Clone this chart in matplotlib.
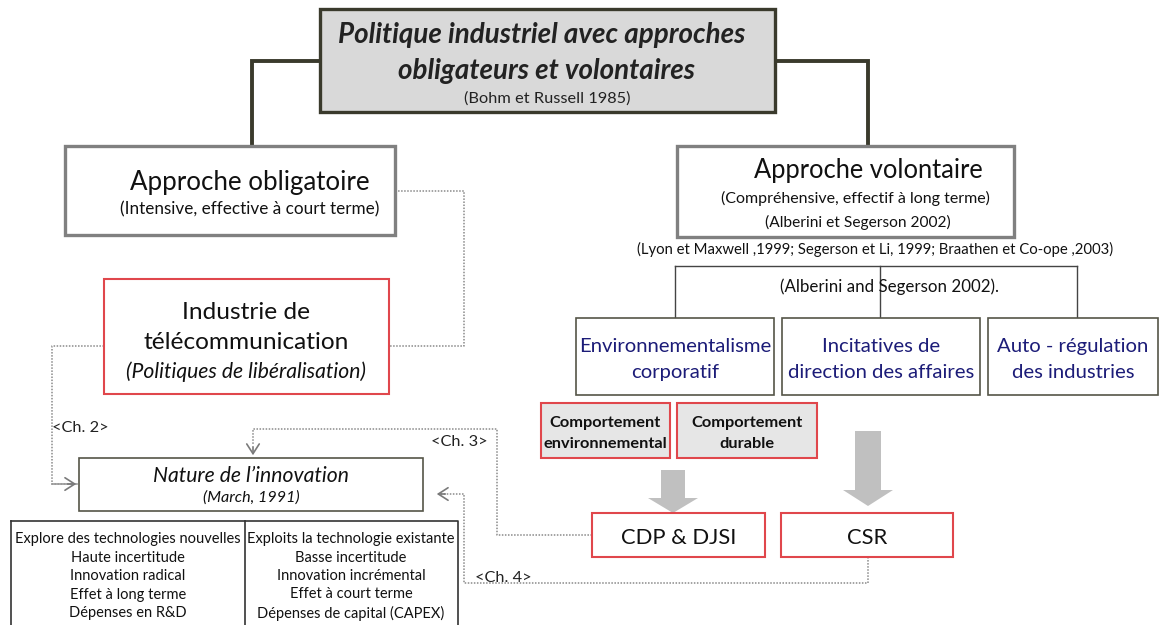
import matplotlib
matplotlib.use("Agg")
import matplotlib.pyplot as plt
from matplotlib.patches import Rectangle, FancyArrow

plt.rcParams['font.family'] = ['Lato', 'DejaVu Sans']

# ---- texts ----
title_lines = ["Politique industriel avec approches", "obligateurs et volontaires"]
title_ref = "(Bohm et Russell 1985)"
oblig_title = "Approche obligatoire"
oblig_sub = "(Intensive, effective à court terme)"
volont_title = "Approche volontaire"
volont_sub = ["(Compréhensive, effectif à long terme)", "(Alberini et Segerson 2002)"]
volont_refs = "(Lyon et Maxwell ,1999; Segerson et Li, 1999; Braathen et Co-ope ,2003)"
tree_ref = "(Alberini and Segerson 2002)."
branches = [["Environnementalisme", "corporatif"], ["Incitatives de", "direction des affaires"],
            ["Auto - régulation", "des industries"]]
behaviours = [["Comportement", "environnemental"], ["Comportement", "durable"]]
outcomes = ["CDP & DJSI", "CSR"]
telecom_lines = ["Industrie de", "télécommunication"]
telecom_sub = "(Politiques de libéralisation)"
nature_title = "Nature de l’innovation"
nature_sub = "(March, 1991)"
chapters = ["<Ch. 2>", "<Ch. 3>", "<Ch. 4>"]
explore_col = ["Explore des technologies nouvelles", "Haute incertitude", "Innovation radical",
               "Effet à long terme", "Dépenses en R&D"]
exploit_col = ["Exploits la technologie existante", "Basse incertitude", "Innovation incrémental",
               "Effet à court terme", "Dépenses de capital (CAPEX)"]

fig = plt.figure(figsize=(11.6, 6.25), dpi=100)
ax = fig.add_axes([0, 0, 1, 1])
ax.set_xlim(0, 1160)
ax.set_ylim(625, 0)
ax.axis('off')

DARK = '#3a3a2c'
GRAY_EDGE = '#808080'
RED = '#e0474c'
NAVY = '#1c1c78'
DOT = '#8a8a8a'
TXT = '#111111'
DY = 2.5  # vertical text nudge


def box(x0, y0, x1, y1, ec, lw, fc='white', z=2):
    ax.add_patch(Rectangle((x0, y0), x1 - x0, y1 - y0, fc=fc, ec=ec, lw=lw, zorder=z))


def dotted(xs, ys):
    ax.plot(xs, ys, color=DOT, lw=1.1, ls=(0, (1, 1)), zorder=1)


def openhead(x, y, dx, dy):
    ax.annotate('', xy=(x, y), xytext=(x - dx * 14, y - dy * 14),
                arrowprops=dict(arrowstyle='->,head_length=0.7,head_width=0.45', color='#7a7a7a', lw=1.2),
                zorder=3)


def txt(x, y, s, size, ha='center', **kw):
    kw.setdefault('color', TXT)
    ax.text(x, y + DY, s, ha=ha, va='center', fontsize=size, zorder=4, **kw)


# ---- connectors top ----
ax.plot([320, 252, 252], [61, 61, 146], color=DARK, lw=2.8, zorder=1, solid_joinstyle='miter')
ax.plot([775, 868, 868], [61, 61, 146], color=DARK, lw=2.8, zorder=1, solid_joinstyle='miter')

# ---- top box ----
box(320, 9, 775, 112, DARK, 2.4, fc='#d9d9d9')
txt(542, 33, title_lines[0], 20, fontweight='bold', style='italic', color='#222222')
txt(547, 68, title_lines[1], 20, fontweight='bold', style='italic', color='#222222')
txt(547, 96, title_ref, 11.8, color='#222222')

# ---- approche obligatoire ----
box(65, 146, 395, 235, GRAY_EDGE, 2.4)
txt(250, 180, oblig_title, 18.6)
txt(250, 207, oblig_sub, 12.3)

# ---- approche volontaire ----
box(677, 146, 1014, 237, GRAY_EDGE, 2.4)
txt(868, 168, volont_title, 18.4)
txt(855, 196, volont_sub[0], 11.5)
txt(858, 220, volont_sub[1], 11.2)
txt(875, 247, volont_refs, 10.7)

# ---- tree ----
ax.plot([675, 1077], [266, 266], color='#444444', lw=1.0, zorder=1)
for xv in [675, 880, 1077]:
    ax.plot([xv, xv], [266, 318], color='#444444', lw=1.0, zorder=1)
txt(890, 284, tree_ref, 12.2)

bx = [(576, 774), (782, 980), (988, 1158)]
for (x0, x1), lab in zip(bx, branches):
    box(x0, 318, x1, 395, '#555548', 1.2)
    txt((x0 + x1) / 2, 344, lab[0], 14.6, color=NAVY)
    txt((x0 + x1) / 2, 370, lab[1], 14.6, color=NAVY)

# ---- behaviours ----
for (x0, x1), lab in zip([(541, 670), (677, 817)], behaviours):
    box(x0, 403, x1, 458, RED, 1.5, fc='#e6e6e6')
    txt((x0 + x1) / 2, 420, lab[0], 11.8, fontweight='bold')
    txt((x0 + x1) / 2, 441, lab[1], 11.8, fontweight='bold')

# ---- gray block arrows ----
ax.add_patch(FancyArrow(673, 470, 0, 43, width=24, head_width=50, head_length=15,
                        length_includes_head=True, fc='#c0c0c0', ec='none', zorder=2))
ax.add_patch(FancyArrow(868, 431, 0, 75, width=26, head_width=50, head_length=16,
                        length_includes_head=True, fc='#c0c0c0', ec='none', zorder=2))

# ---- outcomes ----
for (x0, x1), lab in zip([(592, 765), (781, 953)], outcomes):
    box(x0, 513, x1, 557, RED, 1.5)
    txt((x0 + x1) / 2, 535, lab, 15.8)

# ---- telecom ----
box(104, 279, 389, 394, RED, 1.5)
txt(246, 310, telecom_lines[0], 17.6)
txt(246, 340, telecom_lines[1], 17.6)
txt(246, 369, telecom_sub, 15.2, style='italic')

# ---- nature ----
box(79, 458, 423, 511, '#555548', 1.2)
txt(251, 474, nature_title, 15.2, style='italic')
txt(251, 495, nature_sub, 11.6, style='italic')

# ---- dotted connectors ----
dotted([395, 464, 464, 389], [191, 191, 346, 346])
dotted([104, 52, 52, 72], [346, 346, 484, 484])
ax.plot([52, 77], [484, 484], color='#9a9a9a', lw=1.2, zorder=1)
openhead(79, 484, 1, 0)
txt(52, 426, chapters[0], 11.8, ha='left', color='#222222')

dotted([592, 497, 497, 253, 253], [535, 535, 429, 429, 445])
openhead(253, 458, 0, 1)
txt(431, 440, chapters[1], 11.8, ha='left', color='#222222')

dotted([868, 868, 464, 464, 440], [557, 583, 583, 494, 494])
openhead(434, 494, -1, 0)
txt(475, 575, chapters[2], 11.8, ha='left', color='#222222')

# ---- table ----
ax.plot([11, 458, 458], [521, 521, 630], color='#333333', lw=1.2, zorder=2)
ax.plot([11, 11], [521, 630], color='#333333', lw=1.2, zorder=2)
ax.plot([245, 245], [521, 630], color='#333333', lw=1.2, zorder=2)
row_y = [536, 555, 574, 592, 611]
for yv, l, r in zip(row_y, explore_col, exploit_col):
    txt(128, yv, l, 10.5)
    txt(351, yv, r, 10.5)

fig.savefig('out.png', dpi=100)
